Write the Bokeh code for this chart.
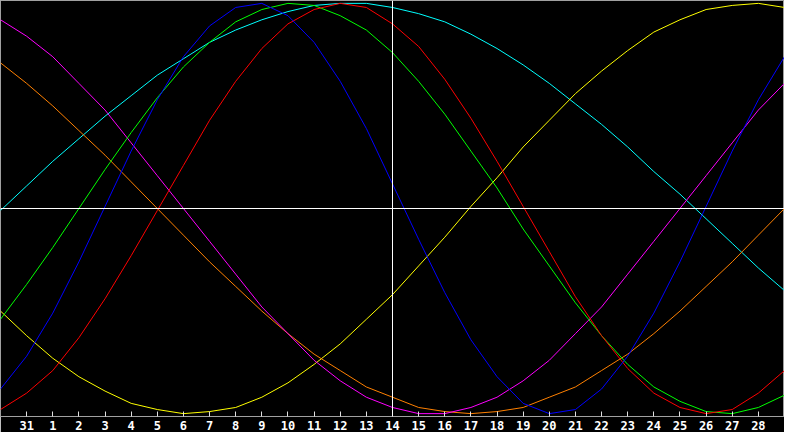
from bokeh.plotting import figure
from bokeh.models import Range1d, Span, FixedTicker
from bokeh.embed import file_html
from bokeh.resources import INLINE

# day index 0..30 (x positions), today at index 15
days = [0, 1, 2, 3, 4, 5, 6, 7, 8, 9, 10, 11, 12, 13, 14, 15, 16, 17, 18, 19,
        20, 21, 22, 23, 24, 25, 26, 27, 28, 29, 30]
tick_days = [1, 2, 3, 4, 5, 6, 7, 8, 9, 10, 11, 12, 13, 14, 15, 16, 17, 18, 19,
             20, 21, 22, 23, 24, 25, 26, 27, 28, 29]
tick_labels = ["31", "1", "2", "3", "4", "5", "6", "7", "8", "9", "10", "11", "12",
               "13", "14", "15", "16", "17", "18", "19", "20", "21", "22", "23",
               "24", "25", "26", "27", "28"]
today = 15

# values in percent
physical = [-88, -72, -51, -26, 1, 28, 53, 74, 89, 98, 100, 94, 81, 62, 39, 12,
            -15, -41, -64, -82, -95, -100, -98, -88, -72, -51, -26, 1, 28, 53, 74]
emotional = [-98, -90, -79, -63, -44, -23, -1, 21, 43, 62, 78, 90, 97, 100, 98, 90,
             79, 63, 44, 23, 1, -21, -43, -62, -78, -90, -97, -100, -98, -90, -79]
intellectual = [-54, -37, -19, 0, 19, 37, 54, 69, 81, 91, 97, 100, 99, 94, 87, 76,
                62, 46, 28, 10, -10, -28, -46, -62, -76, -87, -94, -99, -100, -97, -91]
intuitive = [92, 84, 74, 61, 48, 32, 16, 0, -16, -32, -48, -61, -74, -84, -92, -97,
             -100, -100, -97, -92, -84, -74, -61, -48, -32, -16, 0, 16, 32, 48, 61]
aesthetic = [-50, -62, -73, -82, -89, -95, -98, -100, -99, -97, -92, -85, -76, -66,
             -54, -42, -28, -14, 1, 15, 30, 43, 56, 67, 77, 86, 92, 97, 99, 100, 98]
awareness = [71, 61, 50, 38, 26, 13, 0, -13, -26, -38, -50, -61, -71, -79, -87, -92,
             -97, -99, -100, -99, -97, -92, -87, -79, -71, -61, -50, -38, -26, -13, 0]
spiritual = [-1, 11, 23, 34, 45, 55, 65, 73, 81, 87, 92, 96, 99, 100, 100, 98, 95,
             91, 85, 78, 70, 61, 51, 41, 30, 18, 7, -5, -17, -29, -40]

series = [
    (spiritual, "#00ffff"),
    (aesthetic, "#ffff00"),
    (awareness, "#ff8000"),
    (intuitive, "#ff00ff"),
    (intellectual, "#00ff00"),
    (emotional, "#ff0000"),
    (physical, "#0000ff"),
]

p = figure(width=784, height=432, output_backend="svg", toolbar_location=None,
           x_range=Range1d(0, 30), y_range=Range1d(-101.4, 101.4),
           y_axis_location=None, min_border_left=0, min_border_right=0,
           min_border_top=0, min_border_bottom=0)
p.background_fill_color = "black"
p.border_fill_color = "black"
p.outline_line_color = "#a0a0a0"
p.xgrid.visible = False
p.ygrid.visible = False

xa = p.xaxis[0]
xa.ticker = FixedTicker(ticks=tick_days, minor_ticks=[])
xa.major_label_overrides = {d: lab for d, lab in zip(tick_days, tick_labels)}
xa.axis_line_color = "#a0a0a0"
xa.major_tick_line_color = "#e0e0e0"
xa.major_tick_in = 5
xa.major_tick_out = 0
xa.minor_tick_line_color = None
xa.major_label_text_color = "white"
xa.major_label_text_font = "DejaVu Sans Mono"
xa.major_label_text_font_style = "bold"
xa.major_label_text_font_size = "12px"
xa.major_label_standoff = 4

p.add_layout(Span(location=0, dimension="width", line_color="white", line_width=1))
p.add_layout(Span(location=today, dimension="height", line_color="white", line_width=1))

for vals, col in series:
    p.line(days, vals, line_color=col, line_width=1)

open("out.html", "w").write(file_html(p, INLINE))
